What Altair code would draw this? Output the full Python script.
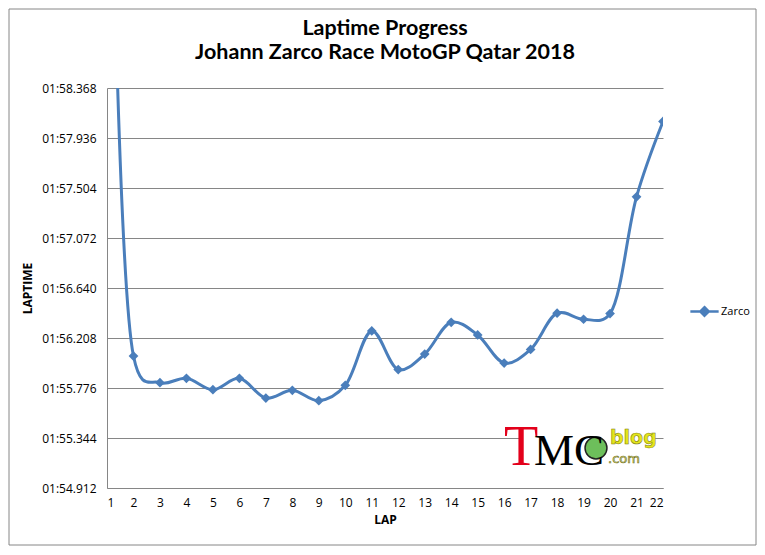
import altair as alt
import pandas as pd

LAPS = list(range(1, 23))
LAPTIMES = [122.8, 116.052, 115.822, 115.860, 115.761, 115.860, 115.689, 115.756,
            115.666, 115.799, 116.269, 115.935, 116.069, 116.344, 116.234, 115.991,
            116.109, 116.422, 116.370, 116.419, 117.428, 118.079]
RIDER = "Zarco"
Y_TICKS = [114.912, 115.344, 115.776, 116.208, 116.640, 117.072, 117.504, 117.936, 118.368]
X_TICKS = LAPS

BLUE = "#4A7EBB"
GRID = "#868686"
FONT = "Open Sans"

df = pd.DataFrame({"lap": LAPS, "time": LAPTIMES, "rider": [RIDER] * len(LAPS)})
one = pd.DataFrame({"a": [0]})

x = alt.X("lap:Q", scale=alt.Scale(domain=[1, 22], nice=False),
          axis=alt.Axis(values=X_TICKS, grid=False, ticks=False, title="LAP",
                        labelPadding=9, titlePadding=6, format="d", labelOverlap=False,
                        labelSeparation=0))
y = alt.Y("time:Q", scale=alt.Scale(domain=[Y_TICKS[0], Y_TICKS[-1]], nice=False, zero=False),
          axis=alt.Axis(values=Y_TICKS, grid=True, ticks=False, title="LAPTIME",
                        labelPadding=11, titlePadding=7, labelOverlap=False,
                        labelExpr='"01:" + format(datum.value - 60, "06.3f")'))

line = alt.Chart(df).mark_line(interpolate="catmull-rom", tension=0.3, strokeWidth=3,
                               clip=True).encode(
    x=x, y=y,
    color=alt.Color("rider:N", scale=alt.Scale(domain=[RIDER], range=[BLUE]),
                    legend=alt.Legend(title=None, orient="none", legendX=582, legendY=208,
                                      symbolType="M-1,0L1,0M0,-0.3L0.3,0L0,0.3L-0.3,0Z",
                                      symbolSize=800, symbolStrokeWidth=2.5,
                                      symbolFillColor=BLUE, symbolStrokeColor=BLUE,
                                      labelFont=FONT, labelFontSize=11, labelColor="black",
                                      labelOffset=1))
)
pts = alt.Chart(df).mark_point(shape="diamond", filled=True, size=95, color=BLUE,
                               opacity=1, clip=True).encode(x=x, y=y)

cover = alt.Chart(one).mark_rect(color="white").encode(
    x=alt.value(413), x2=alt.value(548), y=alt.value(332), y2=alt.value(382))
t_red = alt.Chart(one).mark_text(text="T", font="Liberation Serif", fontSize=56, color="#E3001B",
                                 align="left", baseline="alphabetic").encode(
    x=alt.value(397), y=alt.value(377))
circ = alt.Chart(one).mark_point(shape="circle", filled=True, size=480, color="#6DBF5B",
                                 opacity=1, stroke="#222222", strokeWidth=1.5).encode(
    x=alt.value(489), y=alt.value(360))
mc = alt.Chart(one).mark_text(text="MC", font="Liberation Serif", fontSize=45, color="black",
                              align="left", baseline="alphabetic").encode(
    x=alt.value(427), y=alt.value(377))
blog = alt.Chart(one).mark_text(text="blog", font="DejaVu Sans", fontWeight="bold", fontSize=19,
                                color="#E5E51A", stroke="#7A7A10", strokeWidth=0.5,
                                align="left", baseline="alphabetic").encode(
    x=alt.value(503), y=alt.value(356))
com = alt.Chart(one).mark_text(text=".com", font="DejaVu Sans", fontSize=13,
                               color="#F4F48A", stroke="#6A6A20", strokeWidth=0.6,
                               align="left", baseline="alphabetic").encode(
    x=alt.value(501), y=alt.value(375))
border = alt.Chart(one).mark_rect(fill=None, stroke=GRID, strokeWidth=1).encode(
    x=alt.value(-98), x2=alt.value(649), y=alt.value(-79), y2=alt.value(457))

chart = alt.layer(border, line, pts, cover, circ, t_red, mc, blog, com).properties(
    width=556, height=400,
    autosize=alt.AutoSizeParams(type="none"),
    padding={"left": 99, "top": 80, "right": 94, "bottom": 59},
    background="white",
    title=alt.Title(["Laptime Progress", "Johann Zarco Race MotoGP Qatar 2018"],
                    font="Lato", fontSize=21.5, fontWeight="bold", color="black",
                    anchor="middle", lineHeight=24, offset=0, dy=55),
).configure_view(stroke=None).configure_axis(
    domainColor=GRID, gridColor=GRID, gridWidth=1, domainWidth=1,
    labelFont=FONT, labelFontSize=12, labelColor="black", labelOverlap=False,
    titleFont=FONT, titleFontSize=12, titleFontWeight="bold", titleColor="black"
)

chart.save("out.html", embed_options={"renderer": "svg", "actions": False})
